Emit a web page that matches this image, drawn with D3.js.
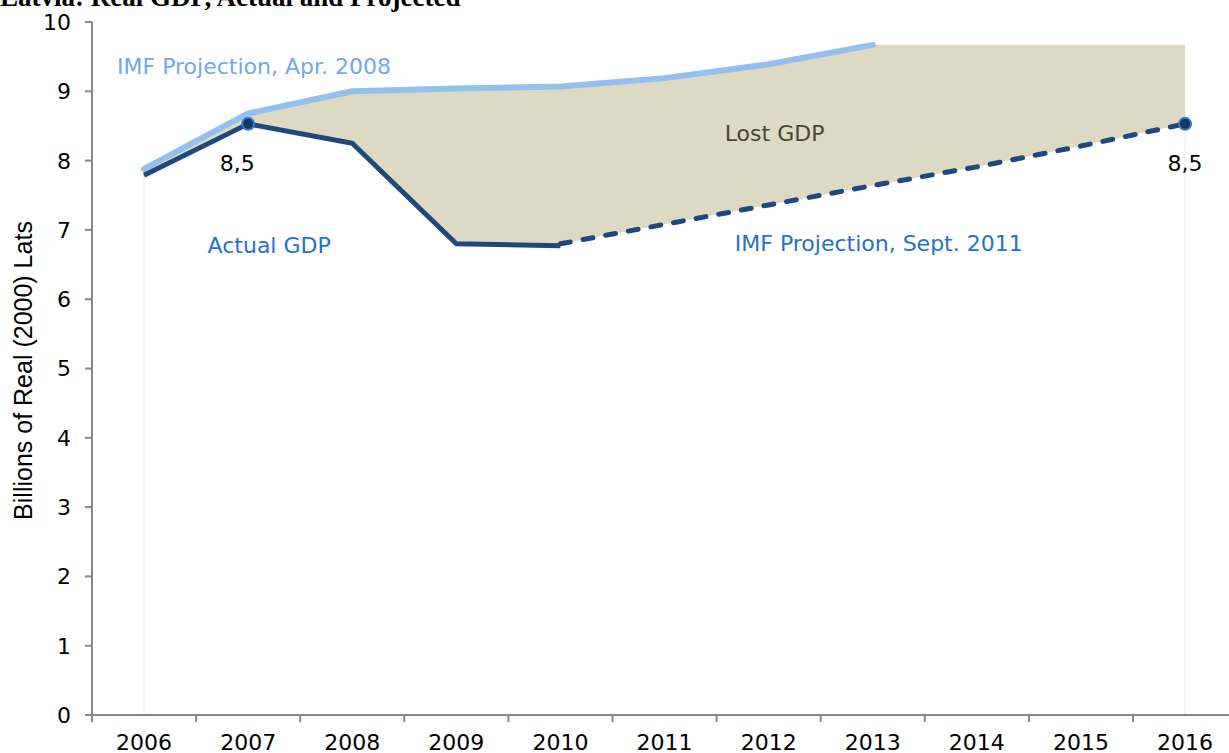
<!DOCTYPE html>
<html lang="en">
<head>
    <meta charset="UTF-8">
    <title>Latvia: Real GDP, Actual and Projected</title>
    <script src="https://d3js.org/d3.v7.min.js"></script>
    <style>
        body { margin: 0; background: #fff; }
        svg { display: block; }
        .tick-label { font-family: "DejaVu Sans", Verdana, sans-serif; font-size: 22px; fill: #000; }
        .note { font-family: "DejaVu Sans", Verdana, sans-serif; font-size: 22px; }
    </style>
</head>
<body>
<svg width="1229" height="753"></svg>
<script>
    // years on the category axis
    const years = [2006, 2007, 2008, 2009, 2010, 2011, 2012, 2013, 2014, 2015, 2016];
    // actual real GDP, 2006-2010
    const actual = [7.79, 8.53, 8.25, 6.80, 6.77];
    // IMF projection of Apr. 2008, 2006-2013
    const apr2008 = [7.88, 8.68, 9.00, 9.04, 9.07, 9.19, 9.39, 9.67];
    // IMF projection of Sept. 2011, 2010-2016
    const sept2011 = [6.80, 7.08, 7.36, 7.64, 7.91, 8.21, 8.53];
    const yTicks = [0, 1, 2, 3, 4, 5, 6, 7, 8, 9, 10];

    const svg = d3.select("svg");
    const mLeft = 92, mBottom = 715, mTop = 22;

    const x = d3.scaleBand().domain(years).range([mLeft, mLeft + 104.1 * years.length]).padding(0);
    const cx = d => x(d) + x.bandwidth() / 2;
    const y = d3.scaleLinear().domain([0, 10]).range([mBottom, mTop]);

    // lost GDP area: top = Apr. 2008 path held flat after 2013, bottom = actual then Sept. 2011
    const topVals = years.map((yr, i) => i < apr2008.length ? apr2008[i] : apr2008[apr2008.length - 1]);
    const lowVals = years.map((yr, i) => i < 4 ? actual[i] : sept2011[i - 4]);
    const areaData = years.map((yr, i) => ({ yr: yr, hi: topVals[i], lo: lowVals[i] }));

    // faint drop lines at both ends
    svg.append("g").selectAll("line")
        .data([{ yr: years[0], v: actual[0] }, { yr: years[years.length - 1], v: sept2011[sept2011.length - 1] }])
        .enter().append("line")
        .attr("x1", d => cx(d.yr)).attr("x2", d => cx(d.yr))
        .attr("y1", d => y(d.v)).attr("y2", y(0))
        .attr("stroke", "#f0efe4").attr("stroke-width", 1.2);

    svg.append("path")
        .datum(areaData)
        .attr("fill", "#ddd9c3")
        .attr("d", d3.area().x(d => cx(d.yr)).y0(d => y(d.lo)).y1(d => y(d.hi)));

    // axes
    const axisColor = "#878787";
    const gy = svg.append("g");
    gy.append("line").attr("x1", mLeft).attr("x2", mLeft).attr("y1", y(10)).attr("y2", y(0))
        .attr("stroke", axisColor).attr("stroke-width", 2);
    gy.selectAll(".yt").data(yTicks).enter().append("line")
        .attr("x1", mLeft - 7).attr("x2", mLeft).attr("y1", d => y(d)).attr("y2", d => y(d))
        .attr("stroke", axisColor).attr("stroke-width", 2);
    gy.selectAll("text").data(yTicks).enter().append("text")
        .attr("class", "tick-label")
        .attr("x", mLeft - 21).attr("y", d => y(d)).attr("dy", "0.36em")
        .attr("text-anchor", "end").text(d => d);

    const gx = svg.append("g");
    gx.append("line").attr("x1", mLeft - 7).attr("x2", x.range()[1]).attr("y1", mBottom).attr("y2", mBottom)
        .attr("stroke", axisColor).attr("stroke-width", 2);
    gx.selectAll(".xt").data(years).enter().append("line")
        .attr("x1", d => x(d)).attr("x2", d => x(d)).attr("y1", mBottom).attr("y2", mBottom + 7)
        .attr("stroke", axisColor).attr("stroke-width", 2);
    gx.selectAll("text").data(years).enter().append("text")
        .attr("class", "tick-label")
        .attr("x", d => cx(d)).attr("y", 750)
        .attr("text-anchor", "middle").text(d => d);

    // lines
    const line = d3.line().x(d => cx(d[0])).y(d => y(d[1]));
    svg.append("path")
        .datum(apr2008.map((v, i) => [years[i], v]))
        .attr("fill", "none").attr("stroke", "#92c0ef").attr("stroke-width", 6)
        .attr("stroke-linecap", "round").attr("stroke-linejoin", "round")
        .attr("d", line);
    svg.append("path")
        .datum(sept2011.map((v, i) => [years[i + 4], v]))
        .attr("fill", "none").attr("stroke", "#1f497d").attr("stroke-width", 5)
        .attr("stroke-linecap", "round").attr("stroke-dasharray", "10,13")
        .attr("d", line);
    svg.append("path")
        .datum(actual.map((v, i) => [years[i], v]))
        .attr("fill", "none").attr("stroke", "#1f497d").attr("stroke-width", 5)
        .attr("stroke-linejoin", "round")
        .attr("d", line);

    // markers on 2007 and 2016
    const marks = [{ yr: 2007, v: actual[1] }, { yr: 2016, v: sept2011[6] }];
    svg.selectAll(".mk").data(marks).enter().append("circle")
        .attr("cx", d => cx(d.yr)).attr("cy", d => y(d.v)).attr("r", 6)
        .attr("fill", "#17375e").attr("stroke", "#2a7fd4").attr("stroke-width", 2);
    svg.selectAll(".ml").data(marks).enter().append("text")
        .attr("class", "note")
        .attr("x", (d, i) => cx(d.yr) - (i === 0 ? 11 : 0)).attr("y", d => y(d.v) + 47)
        .attr("text-anchor", "middle").attr("fill", "#000")
        .text(d => d3.format(".1f")(d.v).replace(".", ","));

    // annotations
    svg.append("text").attr("class", "note").attr("fill", "#6eaae9")
        .attr("x", cx(2006) - 27).attr("y", y(9.37)).attr("dy", "0.36em")
        .text("IMF Projection, Apr. 2008");
    svg.append("text").attr("class", "note").attr("fill", "#2373c6")
        .attr("x", cx(2007) + 21).attr("y", y(6.78)).attr("dy", "0.36em")
        .attr("text-anchor", "middle").text("Actual GDP");
    svg.append("text").attr("class", "note").attr("fill", "#2373c6")
        .attr("x", cx(2013) + 6).attr("y", y(6.81)).attr("dy", "0.36em")
        .attr("text-anchor", "middle").text("IMF Projection, Sept. 2011");
    svg.append("text").attr("class", "note").attr("fill", "#4b4634")
        .attr("x", (cx(2011) + cx(2012)) / 2 + 58).attr("y", y(8.4)).attr("dy", "0.36em")
        .attr("text-anchor", "middle").text("Lost GDP");

    // axis title
    svg.append("text")
        .attr("transform", "translate(32," + (y(5) + 2) + ") rotate(-90)")
        .attr("text-anchor", "middle")
        .style("font-family", "'Liberation Sans', Arial, sans-serif").style("font-size", "25px")
        .text("Billions of Real (2000) Lats");

    // chart title, cut off at the top edge
    svg.append("text")
        .attr("x", 0).attr("y", 6)
        .style("font-family", "'Liberation Serif', 'Times New Roman', serif")
        .style("font-size", "27px").style("font-weight", "bold")
        .text("Latvia: Real GDP, Actual and Projected");
</script>
</body>
</html>
